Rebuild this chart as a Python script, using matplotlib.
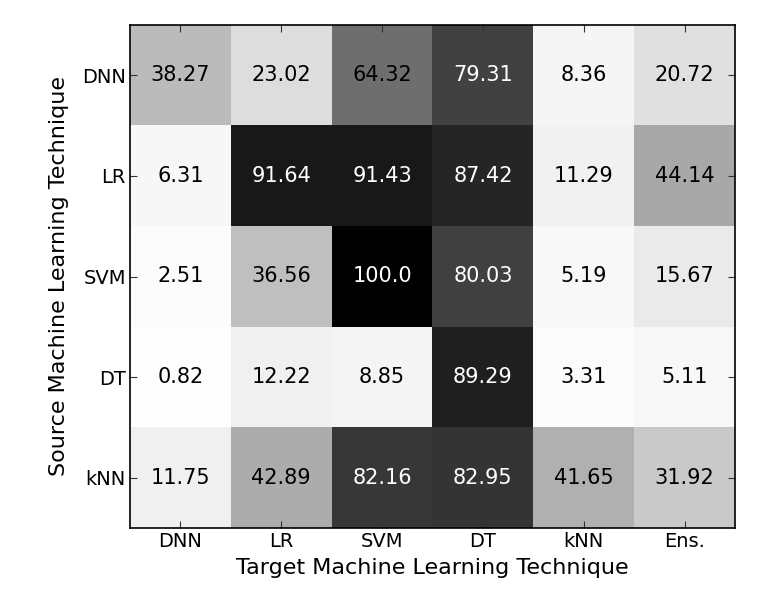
import numpy as np
import matplotlib
matplotlib.use('Agg')
import matplotlib.pyplot as plt

source = ['DNN', 'LR', 'SVM', 'DT', 'kNN']
target = ['DNN', 'LR', 'SVM', 'DT', 'kNN', 'Ens.']

rate_dnn = [38.27, 23.02, 64.32, 79.31, 8.36, 20.72]
rate_lr = [6.31, 91.64, 91.43, 87.42, 11.29, 44.14]
rate_svm = [2.51, 36.56, 100.0, 80.03, 5.19, 15.67]
rate_dt = [0.82, 12.22, 8.85, 89.29, 3.31, 5.11]
rate_knn = [11.75, 42.89, 82.16, 82.95, 41.65, 31.92]

data = np.array([rate_dnn, rate_lr, rate_svm, rate_dt, rate_knn])

fig = plt.figure(figsize=(7.76, 5.92), dpi=100)
ax = fig.add_axes([130/776, 1 - 528/592, 605/776, 503/592])

ax.imshow(data, cmap='Greys', vmin=0, vmax=100, aspect='auto',
          interpolation='nearest')

for i in range(data.shape[0]):
    for j in range(data.shape[1]):
        v = data[i, j]
        col = 'white' if v > 70 else 'black'
        ax.text(j, i, '%.2f' % v if v < 100 else '%.1f' % v,
                ha='center', va='center', fontsize=15, color=col)

ax.set_xticks(range(len(target)))
ax.set_xticklabels(target)
ax.set_yticks(range(len(source)))
ax.set_yticklabels(source)
ax.tick_params(direction='in', top=True, right=True, length=5,
               labelsize=14, pad=3, width=0.8, color='#333333')
for s in ax.spines.values():
    s.set_linewidth(1.2)

ax.set_xlabel('Target Machine Learning Technique', fontsize=16, labelpad=5)
ax.set_ylabel('Source Machine Learning Technique', fontsize=16, labelpad=9)

plt.savefig('out.png', dpi=100)
